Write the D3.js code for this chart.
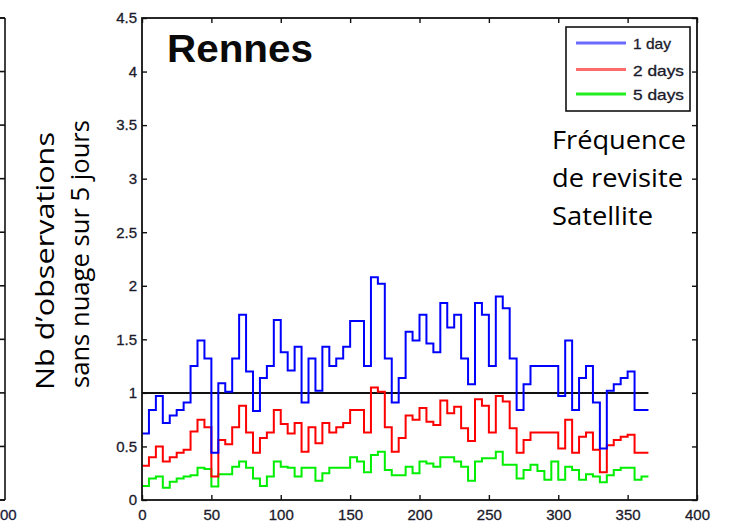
<!DOCTYPE html>
<html>
<head>
<meta charset="utf-8">
<script src="https://cdn.jsdelivr.net/npm/d3@7"></script>
<style>
  html, body { margin: 0; padding: 0; background: #fff; }
  svg { display: block; }
</style>
</head>
<body>
<svg id="chart" width="745" height="523"></svg>
<script>
// ---- data ----
const dayStart = [0,5,10,15,20,25,30,35,40,45,50,55,60,65,70,75,80,85,90,95,
  100,105,110,115,120,125,130,135,140,145,150,155,160,165,170,175,180,185,190,195,
  200,205,210,215,220,225,230,235,240,245,250,255,260,265,270,275,280,285,290,295,
  300,305,310,315,320,325,330,335,340,345,350,355,360];
const dayEnd = 365;

const oneDay = [0.62,0.84,0.97,0.72,0.79,0.84,0.91,1.25,1.49,1.32,
  0.44,1.09,1.01,1.32,1.73,1.20,0.83,1.14,1.25,1.68,
  1.38,1.21,1.43,0.91,1.32,1.02,1.43,1.25,1.32,1.43,
  1.67,1.67,1.25,2.08,2.02,1.32,0.91,1.14,1.57,1.49,
  1.73,1.46,1.38,1.84,1.61,1.73,1.32,1.08,1.84,1.73,
  1.25,1.90,1.79,1.32,0.84,1.08,1.25,1.25,1.25,1.25,
  0.97,1.49,0.84,1.14,1.25,0.91,0.48,1.02,1.08,1.14,
  1.20,0.84,0.84];

const twoDays = [0.32,0.40,0.50,0.36,0.40,0.44,0.47,0.64,0.75,0.68,
  0.22,0.56,0.52,0.68,0.88,0.63,0.44,0.58,0.63,0.84,
  0.71,0.62,0.72,0.45,0.68,0.53,0.72,0.63,0.68,0.72,
  0.84,0.84,0.63,1.05,1.01,0.68,0.45,0.58,0.79,0.75,
  0.86,0.73,0.70,0.93,0.81,0.87,0.67,0.55,0.94,0.88,
  0.63,0.97,0.92,0.67,0.44,0.56,0.63,0.63,0.63,0.63,
  0.48,0.75,0.44,0.59,0.63,0.47,0.26,0.51,0.56,0.59,
  0.61,0.44,0.44];

const fiveDays = [0.13,0.20,0.22,0.115,0.17,0.20,0.22,0.23,0.30,0.29,
  0.125,0.24,0.24,0.31,0.36,0.30,0.20,0.13,0.22,0.36,
  0.31,0.30,0.22,0.30,0.30,0.18,0.25,0.30,0.30,0.30,
  0.40,0.36,0.26,0.42,0.45,0.28,0.23,0.23,0.31,0.25,
  0.36,0.34,0.31,0.40,0.40,0.36,0.31,0.18,0.36,0.39,
  0.39,0.45,0.33,0.33,0.20,0.28,0.33,0.27,0.19,0.36,
  0.19,0.31,0.28,0.19,0.24,0.22,0.165,0.23,0.28,0.30,
  0.30,0.19,0.22];

const referenceLevel = 1;
const xTicks = [0,50,100,150,200,250,300,350,400];
const yTicks = [0,0.5,1,1.5,2,2.5,3,3.5,4,4.5];
const seriesNames = ["1 day", "2 days", "5 days"];
const seriesColors = ["#0000ff", "#ff0000", "#00ee00"];
const legendColors = ["#6a6aff", "#ff6a6a", "#22ee22"];
const yTitle = ["Nb d\u2019observations", "sans nuage sur 5 jours"];
const noteLines = ["Fréquence", "de revisite", "Satellite"];
const title = "Rennes";
const sliverLabel = "00";

// ---- layout ----
const svg = d3.select("#chart");
const L = 142, R = 697, T = 18, B = 500;
const x = d3.scaleLinear().domain([0, 400]).range([L, R]);
const y = d3.scaleLinear().domain([0, 4.5]).range([B, T]);
const tickFont = "'Liberation Sans', Arial, sans-serif";

// left sliver of neighbouring chart
const sliver = svg.append("g").attr("stroke", "#111").attr("stroke-width", 1.6);
sliver.append("line").attr("x1", 5).attr("x2", 5).attr("y1", T).attr("y2", B);
sliver.append("line").attr("x1", 0).attr("x2", 5).attr("y1", T).attr("y2", T);
sliver.append("line").attr("x1", 0).attr("x2", 5).attr("y1", B).attr("y2", B);
yTicks.forEach(t => {
  sliver.append("line").attr("x1", 0).attr("x2", 5).attr("y1", y(t)).attr("y2", y(t));
});
svg.append("text").attr("x", 0).attr("y", 520).attr("text-anchor", "start")
  .attr("font-family", tickFont).attr("font-size", 15).attr("fill", "#1a1a3a")
  .attr("stroke", "#1a1a3a").attr("stroke-width", 0.3).text(sliverLabel);

// series lines
const seriesData = [oneDay, twoDays, fiveDays];
const line = d3.line().x(d => x(d[0])).y(d => y(d[1])).curve(d3.curveStepAfter);
const plot = svg.append("g");

// reference line at 1
plot.append("line")
  .attr("x1", x(0)).attr("x2", x(dayEnd))
  .attr("y1", y(referenceLevel)).attr("y2", y(referenceLevel))
  .attr("stroke", "#111").attr("stroke-width", 2);

seriesData.slice().reverse().forEach((vals, ri) => {
  const idx = seriesData.length - 1 - ri;
  const pts = dayStart.map((d, i) => [d, vals[i]]);
  pts.push([dayEnd, vals[vals.length - 1]]);
  plot.append("path").datum(pts)
    .attr("fill", "none")
    .attr("stroke", seriesColors[idx])
    .attr("stroke-width", 2)
    .attr("d", line);
});

// axes (inward ticks, all four sides)
const axB = svg.append("g").attr("transform", `translate(0,${B})`)
  .call(d3.axisBottom(x).tickValues(xTicks).tickSize(-5).tickPadding(9));
const axL = svg.append("g").attr("transform", `translate(${L},0)`)
  .call(d3.axisLeft(y).tickValues(yTicks).tickSize(-5).tickPadding(5).tickFormat(d3.format("")));
const axT = svg.append("g").attr("transform", `translate(0,${T})`)
  .call(d3.axisTop(x).tickValues(xTicks).tickSize(-5).tickFormat(""));
const axR = svg.append("g").attr("transform", `translate(${R},0)`)
  .call(d3.axisRight(y).tickValues(yTicks).tickSize(-5).tickFormat(""));
[axB, axL, axT, axR].forEach(g => {
  g.select(".domain").remove();
  g.selectAll(".tick line").attr("stroke", "#111").attr("stroke-width", 1.4);
  g.selectAll(".tick text").attr("font-family", tickFont).attr("font-size", 15)
    .attr("fill", "#1a1a2a").attr("stroke", "#1a1a2a").attr("stroke-width", 0.3);
});

// frame
svg.append("rect").attr("x", L).attr("y", T).attr("width", R - L).attr("height", B - T)
  .attr("fill", "none").attr("stroke", "#111").attr("stroke-width", 1.8);

// title
svg.append("text").attr("x", 167).attr("y", 62)
  .attr("font-family", tickFont).attr("font-weight", "bold").attr("font-size", 38)
  .attr("textLength", 146).attr("lengthAdjust", "spacingAndGlyphs")
  .attr("fill", "#0a0a0a").text(title);

// legend
const lg = svg.append("g");
lg.append("rect").attr("x", 566).attr("y", 27).attr("width", 124).attr("height", 84)
  .attr("fill", "#fff").attr("stroke", "#111").attr("stroke-width", 1.6);
const legendY = [43, 69.5, 94];
const legendLen = [38, 51, 51];
seriesNames.forEach((n, i) => {
  lg.append("line").attr("x1", 576).attr("x2", 626).attr("y1", legendY[i]).attr("y2", legendY[i])
    .attr("stroke", legendColors[i]).attr("stroke-width", 3);
  lg.append("text").attr("x", 633).attr("y", legendY[i] + 6)
    .attr("font-family", tickFont).attr("font-size", 15)
    .attr("textLength", legendLen[i]).attr("lengthAdjust", "spacingAndGlyphs")
    .attr("fill", "#1a1a2a").attr("stroke", "#1a1a2a").attr("stroke-width", 0.3).text(n);
});

// annotation
const noteFont = "'Open Sans', 'Noto Sans', sans-serif";
const noteLen = [134, 131, 101];
noteLines.forEach((t, i) => {
  svg.append("text").attr("x", 552).attr("y", 149 + i * 38)
    .attr("font-family", noteFont).attr("font-size", 26)
    .attr("textLength", noteLen[i]).attr("lengthAdjust", "spacingAndGlyphs")
    .attr("fill", "#000").text(t);
});

// y title (rotated)
const titleLen = [258, 268];
const titleBase = [54, 89];
const titleStart = [390, 388];
yTitle.forEach((t, i) => {
  svg.append("text")
    .attr("transform", `translate(${titleBase[i]},${titleStart[i]}) rotate(-90)`)
    .attr("font-family", noteFont).attr("font-size", 26)
    .attr("textLength", titleLen[i]).attr("lengthAdjust", "spacingAndGlyphs")
    .attr("fill", "#000").text(t);
});
</script>
</body>
</html>
